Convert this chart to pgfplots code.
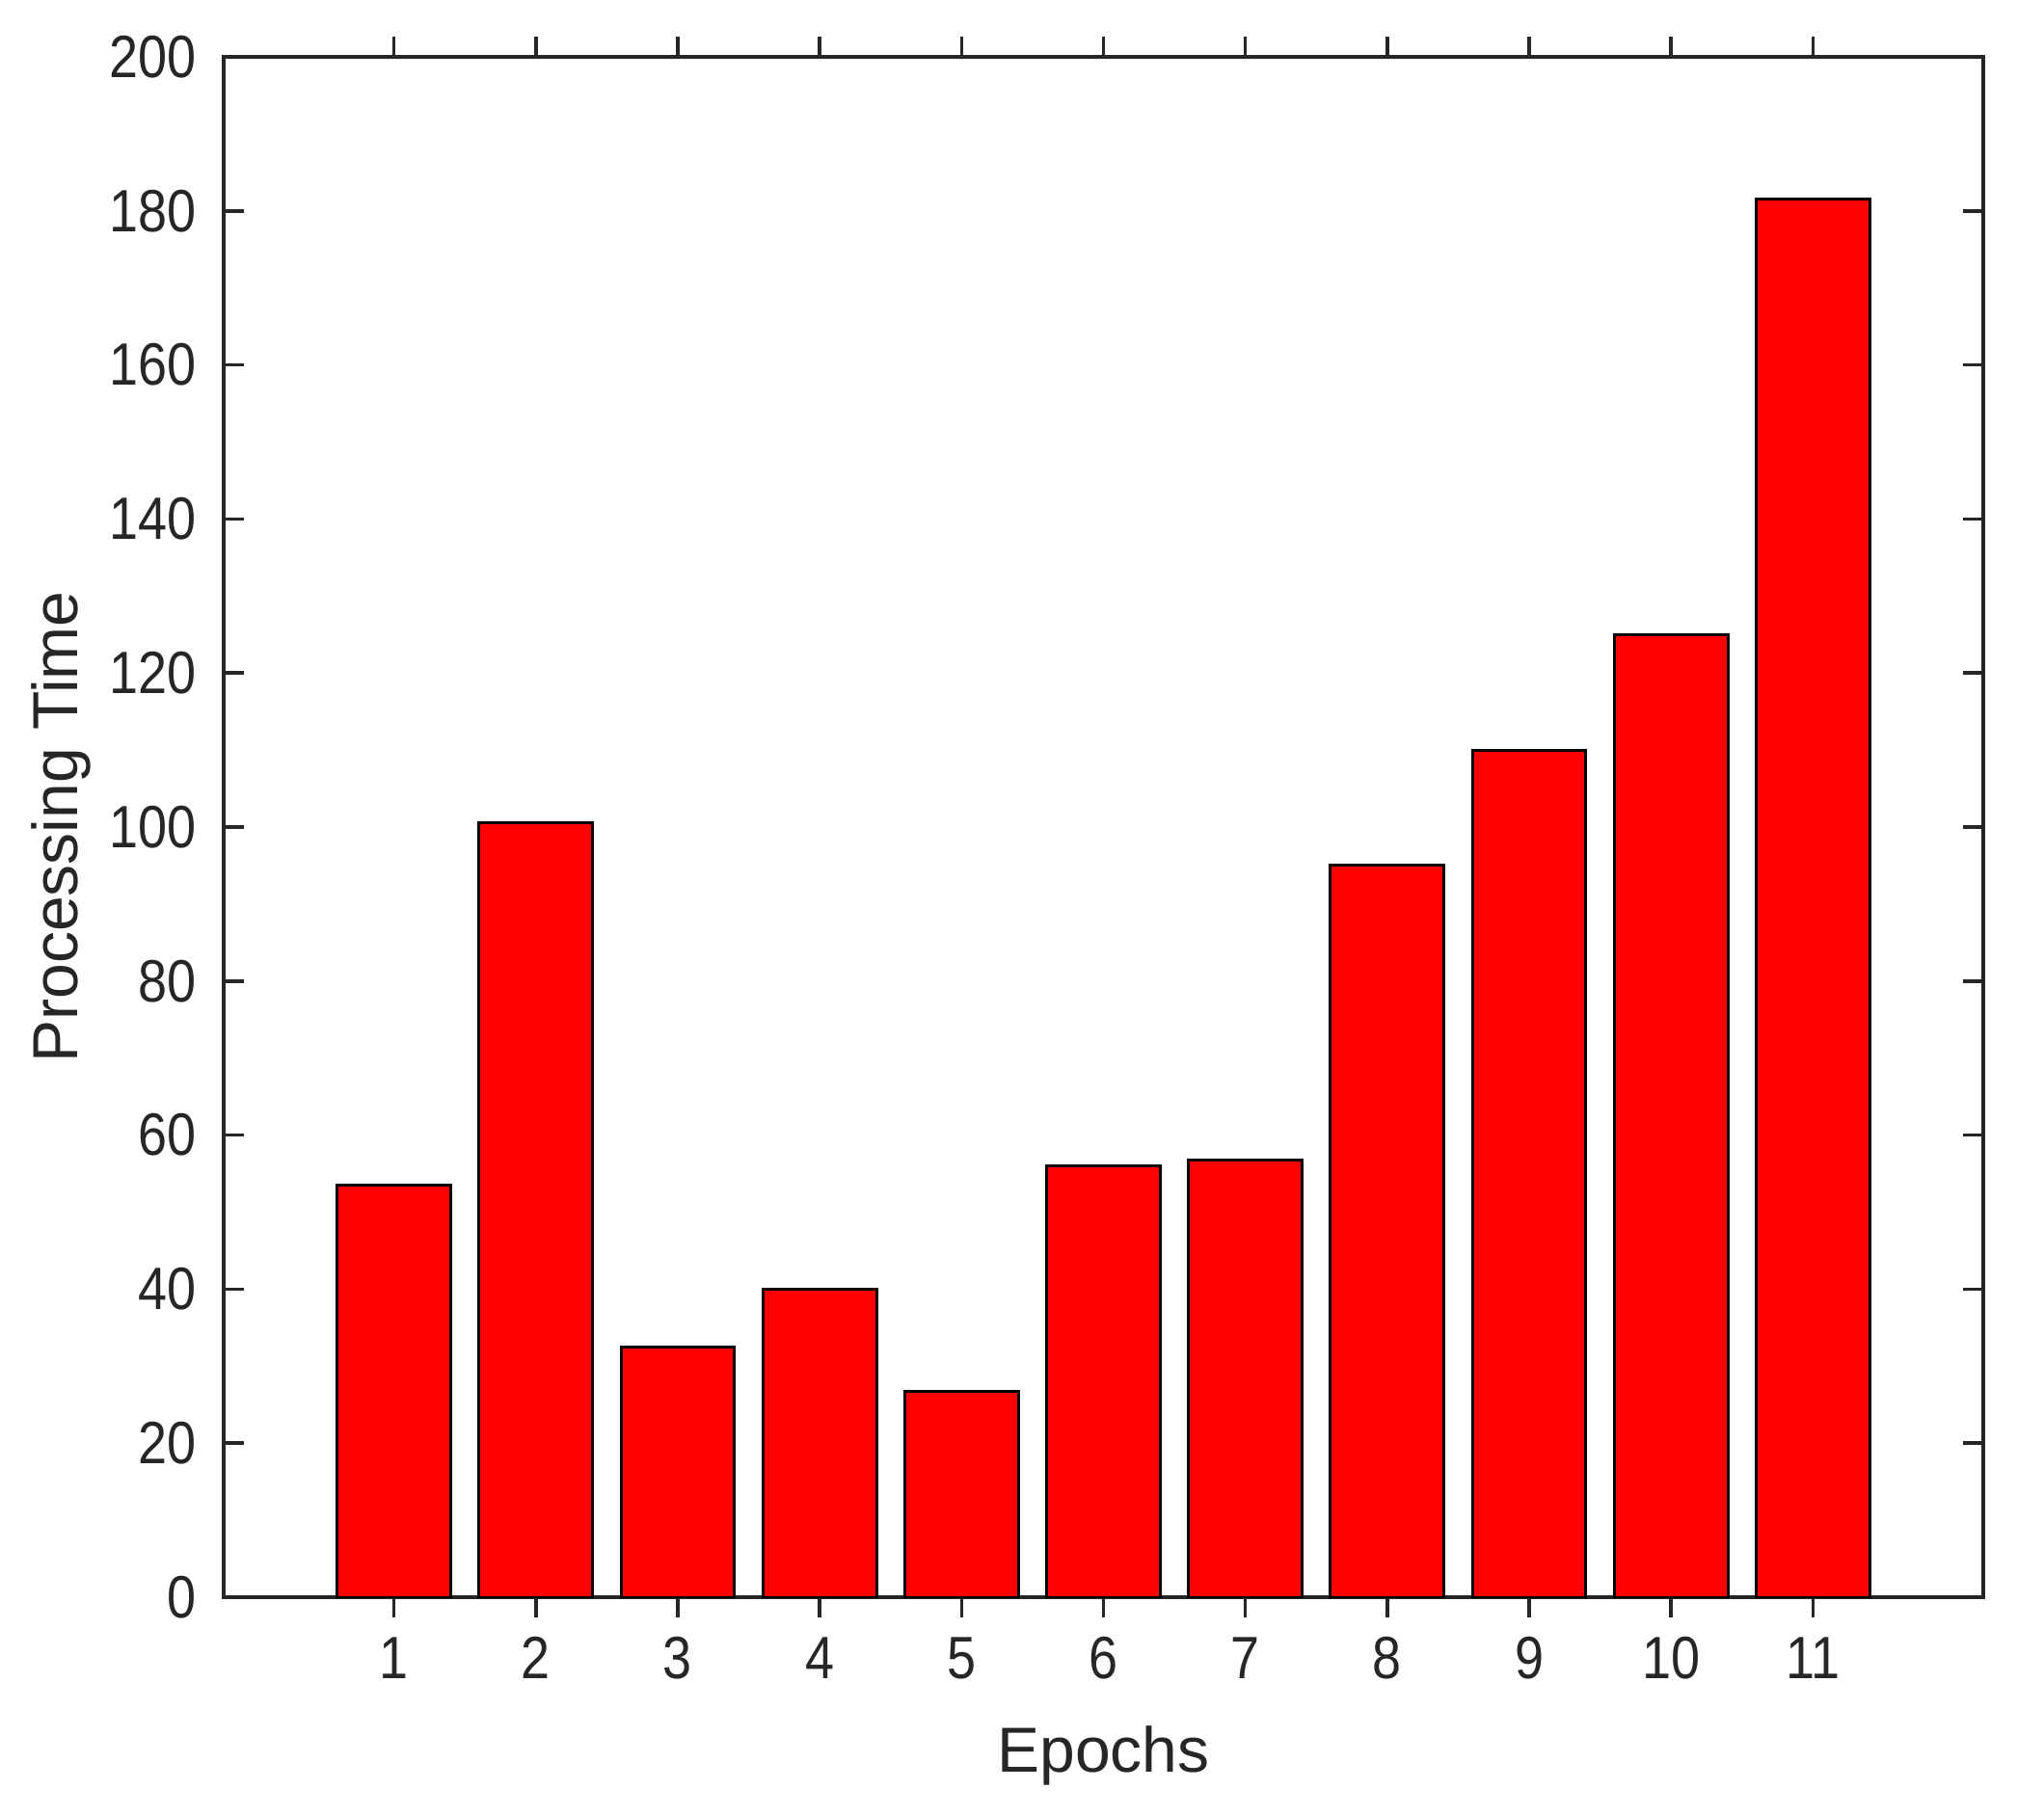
\documentclass[border=0pt]{standalone}
\usepackage{pgfplots}
\pgfplotsset{compat=1.18}
\usepackage{fontspec}
\setmainfont{Liberation Sans}
\newfontfamily\tickfont{Liberation Sans}[FakeStretch=0.87]
\definecolor{axgray}{HTML}{262626}
\begin{document}
\begin{tikzpicture}
\begin{axis}[
  scale only axis,
  width=456.25pt, height=399.5pt,
  xmin=-0.2, xmax=12.2, ymin=0, ymax=200,
  xtick={1,2,3,4,5,6,7,8,9,10,11},
  ytick={0,20,...,200},
  tick pos=both, tick align=inside,
  major tick length=5.2pt,
  axis line style={axgray, line width=0.9pt},
  every tick/.style={axgray, line width=0.9pt},
  /pgf/number format/assume math mode=true,
  tick label style={font=\tickfont\fontsize{15.5}{17}\selectfont, text=axgray, inner sep=0pt},
  xticklabel style={anchor=base, yshift=-16pt},
  yticklabel style={anchor=east, xshift=-7pt},
  label style={font=\fontsize{16.5}{18}\selectfont, text=axgray, inner sep=0pt},
  xlabel={Epochs},
  ylabel={Processing Time},
  xlabel style={at={(axis description cs:0.5,-0.1133)}, anchor=base},
  ylabel style={at={(axis description cs:-0.0751,0.5)}, anchor=south, rotate=0},
  ybar, bar width=0.8,
]
\addplot[fill=red, draw=black, line width=0.75pt] coordinates {
(1,53.5) (2,100.5) (3,32.5) (4,40) (5,26.7) (6,56) (7,56.7) (8,95) (9,110) (10,125) (11,181.5)
};
\end{axis}
\path ([shift={(-58pt,-56.75pt)}]current axis.south west) rectangle ([shift={(15.75pt,14.75pt)}]current axis.north east);
\end{tikzpicture}
\end{document}
